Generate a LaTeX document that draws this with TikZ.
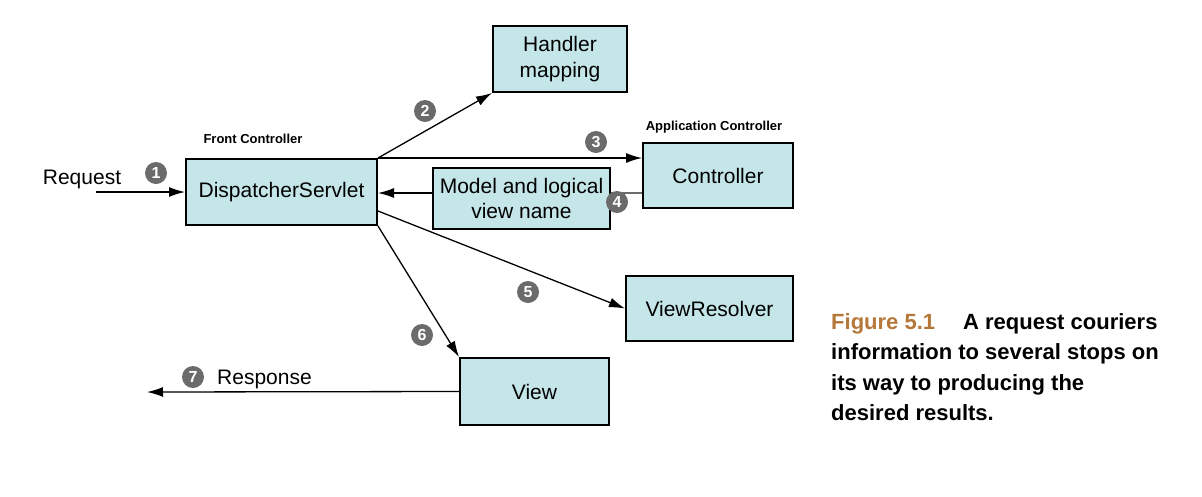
\documentclass[tikz,border=0pt]{standalone}
\usepackage{fontspec}
\setmainfont{Liberation Sans}
\usetikzlibrary{arrows.meta}
\definecolor{boxfill}{HTML}{C5E6E8}
\definecolor{badge}{HTML}{6B6B6B}
\definecolor{figbrown}{HTML}{B5773A}
\tikzset{
  box/.style={draw=black, line width=2pt, fill=boxfill, align=center, inner sep=0pt, font=\fontsize{21}{25.5}\selectfont},
  badgenode/.style={circle, fill=badge, text=white, inner sep=0pt, minimum size=22pt, font=\fontsize{16}{16}\selectfont\bfseries},
  arr/.style={line width=1.3pt, -{Latex[length=16pt,width=10pt]}},
  lbl/.style={font=\fontsize{21}{24}\selectfont, inner sep=0pt},
  small/.style={font=\fontsize{13}{15}\selectfont\bfseries, inner sep=0pt}
}
\begin{document}
\begin{tikzpicture}[x=1pt,y=-1pt]
\useasboundingbox (0,0) rectangle (1202,496);
\node[box, minimum width=191pt, minimum height=66pt] (ds) at (281.5,192) {DispatcherServlet};
\node[box, minimum width=134pt, minimum height=66pt] (hm) at (560,59) {Handler\\mapping};
\node[box, minimum width=150pt, minimum height=65pt] (ctl) at (718,175.5) {Controller};
\node[box, minimum width=177pt, minimum height=61pt] (mv) at (521.5,198.5) {Model and logical\\view name};
\node[box, minimum width=167pt, minimum height=65pt] (vr) at (709.5,308.5) {ViewResolver};
\node[box, minimum width=149pt, minimum height=67pt] (v) at (534.5,391.5) {View};

\node[small] (fc) at (253,139) {Front Controller};
\node[small] (ac) at (714,127) {Application Controller};

\coordinate (reqstart) at (96,192);
\coordinate (respend) at (147,392);
\node[lbl] (req) at (82,179) {Request};
\node[lbl] (resp) at (264.5,379) {Response};

\draw[arr] (reqstart) -- (ds.west);
\draw[arr] (ds.north east) -- (hm.south west);
\draw[arr] (ds.north east) -- (ds.north east -| ctl.west);
\draw[line width=1.3pt, draw=badge] (ctl.west |- 0,193) -- (mv.east |- 0,193);
\draw[arr] (mv.west |- 0,193) -- (ds.east |- 0,193);
\coordinate (ds5) at (ds.east |- 0,211);
\draw[arr] (ds5) -- (vr.west);
\draw[arr] (ds.south east) -- (v.north west);
\draw[arr] (v.west) -- (respend);

\node[badgenode] (b1) at (156,173) {1};
\node[badgenode] (b2) at (425,111) {2};
\node[badgenode] (b3) at (596,142) {3};
\node[badgenode] (b4) at (617,202) {4};
\node[badgenode] (b5) at (528,292) {5};
\node[badgenode] (b6) at (422,335) {6};
\node[badgenode] (b7) at (193,377) {7};

\node[anchor=north west, align=left, inner sep=0pt, font=\fontsize{22}{30.5}\selectfont\bfseries] (cap) at (831,313)
 {\textcolor{figbrown}{Figure 5.1}\hspace{28pt}A request couriers\\information to several stops on\\its way to producing the\\desired results.};
\end{tikzpicture}
\end{document}
